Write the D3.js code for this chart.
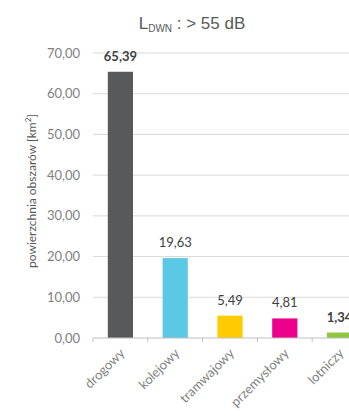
<!DOCTYPE html>
<html>
<head>
<meta charset="utf-8">
<script src="https://cdn.jsdelivr.net/npm/d3@7"></script>
<style>
  body { margin: 0; background: #fff; overflow: hidden; }
  svg { display: block; font-family: Lato, "Open Sans", sans-serif; }
</style>
</head>
<body>
<div id="chart"></div>
<script>
// categories and values
const categories = ["drogowy", "kolejowy", "tramwajowy", "przemysłowy", "lotniczy"];
const values = [65.39, 19.63, 5.49, 4.81, 1.34];
const colors = ["#58595b", "#5bc9e6", "#ffcc00", "#ec008c", "#8dc63f"];
const yTicks = [0, 10, 20, 30, 40, 50, 60, 70];

(function() {
  var width = 349,
      height = 416;

  const svg = d3.select("#chart").append("svg")
                .attr("width", width)
                .attr("height", height);

  // plot goes past the right edge like in the original crop
  var x = d3.scaleBand().domain(categories).range([93, 367]).paddingInner(0.54).paddingOuter(0.27);
  var y = d3.scaleLinear().domain([0, 70]).range([338, 53]);

  const fmt = v => v.toFixed(2).replace(".", ",");

  // gridlines
  svg.append("g")
    .selectAll("line")
    .data(yTicks.filter(d => d > 0))
    .join("line")
    .attr("x1", 93).attr("x2", 367)
    .attr("y1", d => y(d)).attr("y2", d => y(d))
    .attr("stroke", "#d9d9d9")
    .attr("stroke-width", 1);

  // y tick labels
  svg.append("g")
    .selectAll("text")
    .data(yTicks)
    .join("text")
    .attr("x", 80)
    .attr("y", d => y(d) + 4.5)
    .attr("text-anchor", "end")
    .attr("font-size", 13)
    .attr("fill", "#7f7f7f")
    .text(fmt);

  // bars
  svg.append("g")
    .selectAll("rect")
    .data(values)
    .join("rect")
    .attr("x", (d, i) => x(categories[i]))
    .attr("y", d => y(d))
    .attr("width", x.bandwidth())
    .attr("height", d => y(0) - y(d))
    .attr("fill", (d, i) => colors[i]);

  // x axis line and ticks
  svg.append("line")
    .attr("x1", 93).attr("x2", 367)
    .attr("y1", y(0)).attr("y2", y(0))
    .attr("stroke", "#bfbfbf");
  const step = x.step();
  svg.append("g")
    .selectAll("line")
    .data(d3.range(categories.length + 1))
    .join("line")
    .attr("x1", i => 93 + i * step).attr("x2", i => 93 + i * step)
    .attr("y1", y(0)).attr("y2", y(0) + 4)
    .attr("stroke", "#bfbfbf");

  // value labels
  svg.append("g")
    .selectAll("text")
    .data(values)
    .join("text")
    .attr("x", (d, i) => x(categories[i]) + x.bandwidth() / 2)
    .attr("y", d => y(d) - 11)
    .attr("text-anchor", "middle")
    .attr("font-size", 13)
    .attr("font-weight", (d, i) => (i === 0 || i === 4) ? "bold" : "normal")
    .attr("fill", "#404040")
    .text(fmt);

  // category labels, rotated
  svg.append("g")
    .selectAll("text")
    .data(categories)
    .join("text")
    .attr("transform", d => "translate(" + (x(d) + x.bandwidth() / 2 + 5) + "," + (y(0) + 16) + ") rotate(-45)")
    .attr("text-anchor", "end")
    .attr("font-size", 13)
    .attr("fill", "#7f7f7f")
    .text(d => d);

  // y axis title
  const yl = svg.append("text")
    .attr("transform", "translate(36,191) rotate(-90)")
    .attr("text-anchor", "middle")
    .attr("font-size", 12)
    .attr("fill", "#595959");
  yl.append("tspan").text("powierzchnia obszarów [km");
  yl.append("tspan").attr("font-size", 8).attr("dy", -5).text("2");
  yl.append("tspan").attr("dy", 5).text("]");

  // title
  const t = svg.append("text")
    .attr("x", 192)
    .attr("y", 29)
    .attr("text-anchor", "middle")
    .attr("font-family", "'Liberation Sans', Arial, sans-serif")
    .attr("font-size", 17)
    .attr("fill", "#595959");
  t.append("tspan").text("L");
  t.append("tspan").attr("font-size", 10).attr("dy", 3).text("DWN");
  t.append("tspan").attr("dy", -3).text(" : > 55 dB");
})();
</script>
</body>
</html>
